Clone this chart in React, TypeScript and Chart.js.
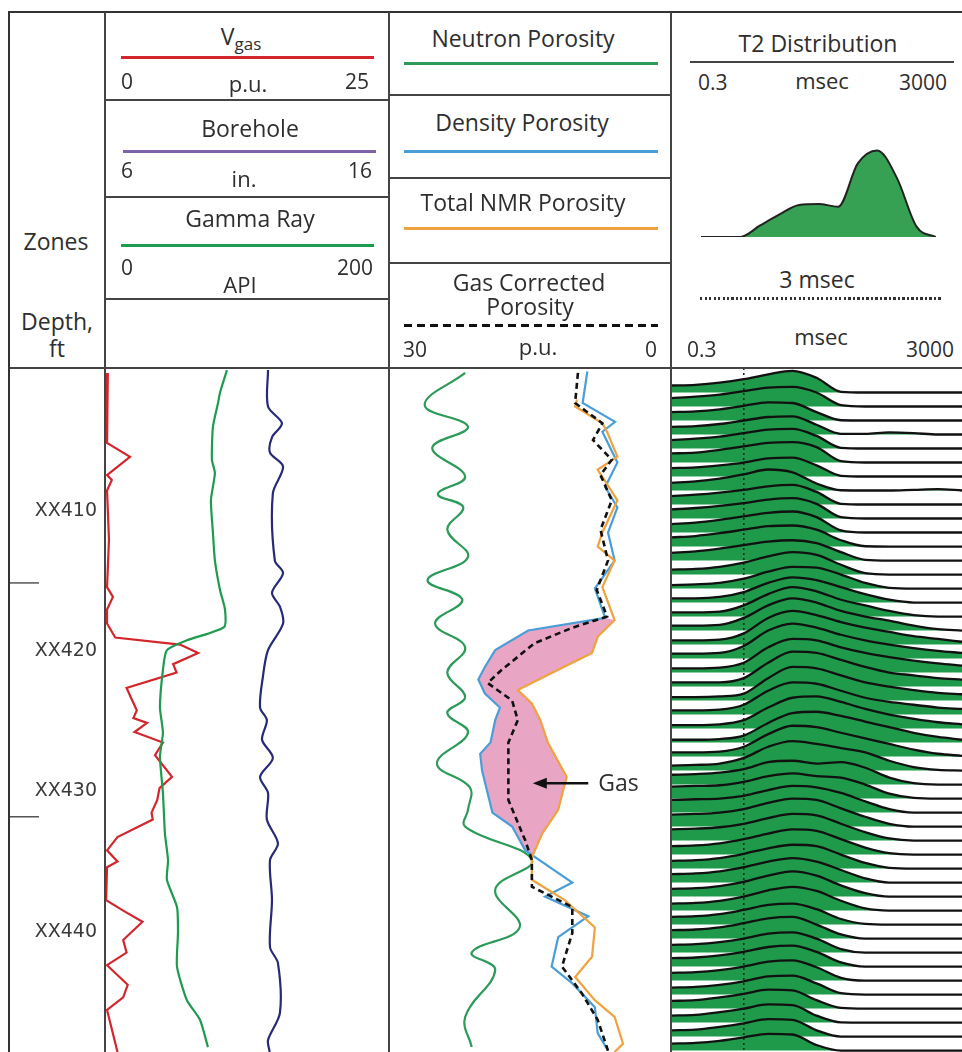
import { useEffect, useRef } from "react";
import { Chart, registerables } from "chart.js";

Chart.register(...registerables);

// ---------------- depth axis ----------------
const DEPTH_TOP = 399.75;
const DEPTH_BOTTOM = 448.6;
const DEPTH_TICKS = [410, 420, 430, 440];
const DEPTH_PREFIX = "XX";
const ZONE_BOUNDARIES = [415.1, 431.8];

// ---------------- track 1 : [depth ft, value] ----------------
const VGAS_RANGE = [0, 25];
const BOREHOLE_RANGE = [6, 16];
const GR_RANGE = [0, 200];

const VGAS: [number, number][] = [
  [400.1, 0.25], [405.1, 0.18], [406.1, 2.2], [407.4, 0.18], [407.75, 0.6], [408.5, 0.18],
  [412.0, 0.35], [415.4, 0.18], [416.1, 0.7], [417.0, 0.18], [418.0, 0.18], [419.0, 0.9],
  [419.5, 6.6], [420.1, 8.2], [420.9, 6.0], [421.5, 6.3], [422.6, 1.9], [423.5, 2.4],
  [424.2, 2.8], [424.75, 2.5], [425.1, 3.7], [425.75, 2.6], [426.5, 5.1], [427.4, 4.4],
  [428.95, 5.9], [429.75, 4.8], [430.6, 4.6], [431.5, 4.1], [432.0, 4.2], [433.25, 1.1],
  [434.2, 0.18], [435.0, 1.1], [435.4, 0.18], [437.75, 0.1], [438.5, 1.6], [439.3, 3.3],
  [440.6, 1.6], [441.5, 1.9], [442.4, 0.18], [443.8, 2.0], [444.7, 1.6], [445.6, 0.18],
  [448.6, 1.1],
];

const GAMMA_RAY: [number, number][] = [
  [399.9, 85.9], [401.5, 81], [402.25, 79.6], [403.95, 76], [406.3, 75.3], [407.25, 77.4],
  [409.2, 74.6], [411.5, 76], [413.5, 77.4], [415.6, 81], [417.0, 84.5], [418.25, 83.8],
  [419.2, 57.7], [419.9, 43.6], [421.3, 40.8], [424.0, 38.7], [425.8, 40.8], [427.5, 38.7],
  [430.1, 40.8], [433.0, 42.2], [434.9, 44.4], [436.3, 43.6], [438.25, 50.7], [440.1, 51.4],
  [442.5, 50.7], [444.9, 57.7], [446.3, 66.9], [448.25, 72.5],
];

const BOREHOLE: [number, number][] = [
  [399.9, 11.74], [402.5, 11.74], [403.7, 12.23], [404.7, 11.88], [405.8, 11.81], [406.8, 12.27],
  [408.7, 11.91], [413.5, 11.98], [414.4, 12.27], [415.8, 11.88], [416.8, 12.16], [418.0, 12.27],
  [419.9, 11.74], [421.8, 11.56], [424.0, 11.46], [424.9, 11.7], [426.3, 11.53], [427.6, 11.91],
  [428.95, 11.46], [430.1, 11.74], [432.0, 11.7], [433.7, 12.09], [434.9, 11.81], [437.75, 11.88],
  [441.1, 11.81], [442.25, 12.09], [445.8, 12.16], [447.75, 11.74], [448.6, 11.8],
];

// ---------------- track 2 : [depth ft, porosity p.u.] ----------------
const POROSITY_RANGE = [0, 30];

const NEUTRON: [number, number][] = [
  [400.1, 21.9], [402.4, 26.2], [403.95, 21.6], [405.45, 25.4], [407.5, 21.9], [408.75, 24.8],
  [409.7, 22.1], [411.3, 23.8], [413.25, 21.6], [414.9, 25.9], [416.3, 22.2], [418.0, 25.1],
  [419.7, 21.9], [421.5, 23.8], [423.25, 21.9], [424.4, 23.8], [425.8, 21.6], [428.0, 24.9],
  [429.7, 21.4], [431.3, 21.6], [432.5, 21.9], [434.9, 14.8], [437.0, 18.7], [439.7, 16.1],
  [441.5, 21.2], [442.75, 18.7], [446.1, 21.9], [448.25, 21.2],
];

const DENSITY: [number, number][] = [
  [400.0, 8.9], [402.25, 9.4], [403.6, 5.95], [404.3, 7.3], [406.5, 5.7], [408.25, 7.0],
  [409.7, 5.7], [411.5, 6.7], [413.5, 6.0], [415.5, 8.1], [417.6, 7.0], [418.5, 15.2],
  [419.9, 18.7], [421.1, 19.8], [422.0, 20.5], [423.0, 19.8], [424.0, 18.2], [424.9, 18.7],
  [426.5, 19.2], [427.3, 20.3], [428.5, 20.1], [431.5, 19.0], [432.5, 16.9], [434.2, 15.5],
  [436.5, 10.5], [437.5, 13.4], [438.9, 8.8], [440.4, 12.0], [442.5, 12.7], [443.7, 10.5],
  [445.4, 8.1], [447.25, 7.8], [448.5, 6.7],
];

const NMR: [number, number][] = [
  [402.0, 10.0], [402.5, 10.2], [403.7, 7.3], [404.3, 6.8], [406.1, 5.7], [407.0, 7.8],
  [409.2, 5.7], [411.5, 7.3], [412.5, 7.8], [413.5, 6.0], [415.4, 7.3], [417.75, 6.0],
  [418.95, 7.8], [420.1, 8.4], [421.3, 12.0], [422.75, 16.3], [423.7, 14.8], [424.9, 13.9],
  [426.5, 13.1], [428.95, 11.1], [431.3, 12.0], [433.0, 13.7], [434.7, 14.8], [436.3, 14.8],
  [437.75, 11.3], [439.7, 8.1], [441.8, 8.4], [443.25, 10.2], [444.9, 8.1], [446.1, 6.0],
  [448.0, 5.1], [448.6, 6.0],
];

const GAS_CORRECTED: [number, number][] = [
  [400.1, 9.9], [402.25, 10.2], [403.7, 7.3], [404.9, 8.3], [406.3, 6.3], [407.4, 7.5],
  [409.2, 6.3], [411.3, 7.5], [413.5, 6.7], [415.6, 7.9], [417.5, 6.8], [418.3, 10.5],
  [419.4, 14.5], [421.3, 18.0], [422.25, 19.5], [423.5, 16.9], [424.9, 16.3], [426.5, 17.3],
  [430.6, 17.3], [433.5, 15.5], [434.9, 14.8], [436.8, 14.8], [438.25, 10.5], [440.1, 10.5],
  [442.5, 11.6], [444.4, 9.5], [446.3, 7.8], [448.5, 6.7],
];

const GAS_ZONE = [417.5, 435.0];
const GAS_LABEL = { text: "Gas", depth: 429.4, head: 14.7, tail: 8.8 };

// ---------------- track 3 : T2 distributions ----------------
const T2_RANGE = [0.3, 3000];
const T2_CUTOFF = 3;
const T2_BINS = [0.3, 0.65, 1.4, 3, 6.5, 14, 30, 65, 140, 300, 650, 1400, 3000];
const T2_BASELINES = [
  401.5, 402.5, 403.5, 404.5, 405.5, 406.5, 407.5, 408.5, 409.5, 410.5, 411.5, 412.5,
  413.5, 414.5, 415.5, 416.5, 417.5, 418.5, 419.5, 420.5, 421.5, 422.5, 423.5, 424.5,
  425.5, 426.5, 427.5, 428.5, 429.5, 430.5, 431.5, 432.5, 433.5, 434.5, 435.5, 436.5,
  437.5, 438.5, 439.5, 440.5, 441.5, 442.5, 443.5, 444.5, 445.5, 446.5, 447.5, 448.5,
];
const T2_AMPLITUDES = [
  [0.5, 0.55, 0.7, 0.95, 1.3, 1.55, 1.05, 0.05, 0, 0, 0, 0, 0],
  [0.6, 0.7, 0.85, 1.1, 1.35, 1.4, 1.0, 0.1, 0, 0, 0, 0, 0],
  [0.6, 0.65, 0.8, 1.05, 1.3, 1.25, 0.6, 0.02, 0, 0, 0, 0, 0],
  [0.55, 0.6, 0.75, 1.0, 1.25, 1.3, 0.7, 0.05, 0.05, 0.15, 0.1, 0, 0],
  [0.6, 0.7, 0.85, 1.1, 1.35, 1.4, 0.9, 0.05, 0, 0, 0, 0, 0],
  [0.65, 0.7, 0.9, 1.15, 1.4, 1.45, 1.1, 0.1, 0, 0, 0, 0, 0],
  [0.6, 0.65, 0.8, 1.0, 1.3, 1.35, 0.8, 0.05, 0, 0, 0, 0, 0],
  [0.55, 0.65, 0.85, 1.15, 1.5, 1.3, 0.5, 0.02, 0, 0, 0.05, 0.1, 0],
  [0.6, 0.7, 0.85, 1.05, 1.3, 1.4, 0.9, 0.05, 0, 0, 0, 0, 0],
  [0.65, 0.75, 0.9, 1.1, 1.35, 1.45, 1.05, 0.1, 0, 0, 0, 0, 0],
  [0.6, 0.7, 0.9, 1.15, 1.4, 1.5, 1.1, 0.15, 0, 0, 0, 0, 0],
  [0.65, 0.75, 0.95, 1.2, 1.45, 1.5, 1.2, 0.45, 0.02, 0, 0, 0, 0],
  [0.55, 0.65, 0.85, 1.1, 1.35, 1.45, 1.25, 0.6, 0.05, 0, 0, 0, 0],
  [0.35, 0.4, 0.55, 0.85, 1.3, 1.6, 1.4, 0.7, 0.1, 0, 0, 0, 0],
  [0.25, 0.3, 0.4, 0.7, 1.2, 1.55, 1.5, 1.0, 0.4, 0.05, 0, 0, 0],
  [0.3, 0.3, 0.4, 0.75, 1.4, 1.8, 1.6, 1.1, 0.6, 0.2, 0, 0, 0],
  [0.3, 0.3, 0.35, 0.8, 1.6, 2.1, 1.8, 1.2, 0.8, 0.4, 0.1, 0, 0],
  [0.35, 0.35, 0.4, 0.9, 1.8, 2.3, 2.0, 1.4, 1.0, 0.7, 0.35, 0.1, 0],
  [0.3, 0.3, 0.35, 0.8, 1.9, 2.4, 2.1, 1.6, 1.2, 0.9, 0.6, 0.4, 0.2],
  [0.35, 0.35, 0.4, 0.9, 2.0, 2.5, 2.2, 1.7, 1.3, 1.0, 0.75, 0.55, 0.4],
  [0.3, 0.3, 0.35, 0.7, 1.8, 2.4, 2.3, 1.8, 1.4, 1.1, 0.85, 0.65, 0.5],
  [0.3, 0.3, 0.3, 0.6, 1.7, 2.5, 2.4, 1.9, 1.4, 1.0, 0.8, 0.6, 0.5],
  [0.25, 0.25, 0.3, 0.5, 1.6, 2.4, 2.3, 1.8, 1.3, 1.0, 0.75, 0.55, 0.45],
  [0.3, 0.3, 0.35, 0.7, 1.7, 2.3, 2.2, 1.7, 1.2, 0.9, 0.7, 0.5, 0.4],
  [0.25, 0.25, 0.3, 0.6, 1.5, 2.2, 2.3, 1.9, 1.4, 1.0, 0.7, 0.45, 0.3],
  [0.2, 0.2, 0.25, 0.5, 1.4, 2.1, 2.2, 1.9, 1.5, 1.1, 0.7, 0.4, 0.2],
  [0.3, 0.3, 0.35, 0.7, 1.6, 2.2, 2.1, 1.7, 1.3, 0.9, 0.5, 0.2, 0.05],
  [0.35, 0.4, 0.5, 0.9, 1.7, 2.1, 1.9, 1.6, 1.3, 0.7, 0.25, 0.05, 0],
  [0.7, 0.75, 0.85, 1.1, 1.6, 1.7, 1.5, 1.6, 1.2, 0.5, 0.1, 0, 0],
  [0.85, 0.9, 0.95, 1.2, 1.6, 1.8, 1.6, 1.5, 1.0, 0.35, 0.05, 0, 0],
  [0.9, 0.95, 1.0, 1.2, 1.6, 1.9, 1.8, 1.4, 0.8, 0.25, 0, 0, 0],
  [0.85, 0.9, 1.0, 1.25, 1.7, 2.0, 1.9, 1.3, 0.7, 0.2, 0, 0, 0],
  [0.8, 0.85, 0.95, 1.2, 1.6, 1.9, 1.8, 1.2, 0.6, 0.15, 0, 0, 0],
  [0.6, 0.65, 0.8, 1.1, 1.5, 1.8, 1.7, 1.1, 0.5, 0.1, 0, 0, 0],
  [0.55, 0.6, 0.75, 1.05, 1.45, 1.7, 1.6, 1.0, 0.4, 0.05, 0, 0, 0],
  [0.6, 0.65, 0.8, 1.1, 1.5, 1.75, 1.5, 0.9, 0.3, 0, 0, 0, 0],
  [0.55, 0.6, 0.75, 1.05, 1.5, 1.8, 1.5, 0.8, 0.25, 0, 0, 0, 0],
  [0.5, 0.55, 0.7, 1.0, 1.45, 1.7, 1.4, 0.7, 0.15, 0, 0, 0, 0],
  [0.55, 0.6, 0.75, 1.05, 1.4, 1.5, 1.1, 0.4, 0.05, 0, 0, 0, 0],
  [0.6, 0.65, 0.8, 1.1, 1.45, 1.55, 1.0, 0.3, 0, 0, 0, 0, 0],
  [0.55, 0.6, 0.75, 1.0, 1.35, 1.45, 1.0, 0.25, 0, 0, 0, 0, 0],
  [0.6, 0.65, 0.8, 1.05, 1.4, 1.5, 1.05, 0.3, 0, 0, 0, 0, 0],
  [0.55, 0.6, 0.75, 1.0, 1.35, 1.45, 0.95, 0.2, 0, 0, 0, 0, 0],
  [0.5, 0.55, 0.7, 0.95, 1.3, 1.35, 0.8, 0.1, 0, 0, 0, 0, 0],
  [0.55, 0.6, 0.8, 1.05, 1.35, 1.3, 0.6, 0.05, 0, 0, 0, 0, 0],
  [0.5, 0.55, 0.75, 1.0, 1.3, 1.25, 0.5, 0.02, 0, 0, 0, 0, 0],
  [0.45, 0.5, 0.7, 0.95, 1.25, 1.2, 0.45, 0, 0, 0, 0, 0, 0],
  [0.5, 0.55, 0.7, 0.95, 1.2, 1.15, 0.4, 0, 0, 0, 0, 0, 0],
];
const T2_GAIN = 1; // ft of depth per amplitude unit
const HEADER_T2_AMP = [0, 0, 0, 0.13, 0.26, 0.37, 0.38, 0.35, 0.85, 1.0, 0.68, 0.12, 0];

// ---------------- styles ----------------
const C = {
  text: "#2e2e2e",
  frame: "#444",
  vgas: "#d3262c",
  borehole: "#262a78",
  boreholeKey: "#7d62a8",
  gr: "#1f9b50",
  neutron: "#2c9a58",
  density: "#4a9ed8",
  nmr: "#efa23e",
  gcp: "#111",
  gas: "rgb(233,166,196)",
  t2: "#1f9a4b",
  t2Header: "#36a152",
};
const SANS = "'Open Sans', 'Noto Sans', sans-serif";

const depthScale = (extra: any = {}) => ({
  type: "linear",
  reverse: true,
  min: DEPTH_TOP,
  max: DEPTH_BOTTOM,
  display: false,
  ...extra,
});

const baseOptions = (extra: any = {}) => ({
  responsive: false,
  maintainAspectRatio: false,
  animation: false,
  events: [],
  layout: { padding: 0 },
  ...extra,
});

const curve = (pts: [number, number][], color: string, xAxisID: string, extra: any = {}) => ({
  data: pts.map(([d, v]) => ({ x: v, y: d })),
  borderColor: color,
  borderWidth: 2.2,
  pointRadius: 0,
  fill: false,
  tension: 0,
  xAxisID,
  yAxisID: "y",
  ...extra,
});

const zoneMarks = {
  id: "zoneMarks",
  afterDraw(chart: any) {
    const y = chart.scales.y;
    const ctx = chart.ctx;
    ctx.save();
    ctx.strokeStyle = "#555";
    ctx.lineWidth = 1.5;
    ZONE_BOUNDARIES.forEach((d) => {
      const py = y.getPixelForValue(d);
      ctx.beginPath();
      ctx.moveTo(0, py);
      ctx.lineTo(30, py);
      ctx.stroke();
    });
    ctx.restore();
  },
};

const gasLabel = {
  id: "gasLabel",
  afterDatasetsDraw(chart: any) {
    const { x, y } = chart.scales;
    const ctx = chart.ctx;
    const py = y.getPixelForValue(GAS_LABEL.depth);
    const hx = x.getPixelForValue(GAS_LABEL.head);
    const tx = x.getPixelForValue(GAS_LABEL.tail);
    ctx.save();
    ctx.strokeStyle = "#111";
    ctx.fillStyle = "#111";
    ctx.lineWidth = 2.5;
    ctx.beginPath();
    ctx.moveTo(tx, py);
    ctx.lineTo(hx + 10, py);
    ctx.stroke();
    ctx.beginPath();
    ctx.moveTo(hx, py);
    ctx.lineTo(hx + 14, py - 5.5);
    ctx.lineTo(hx + 14, py + 5.5);
    ctx.closePath();
    ctx.fill();
    ctx.fillStyle = C.text;
    ctx.font = "23px 'Open Sans'";
    ctx.textBaseline = "middle";
    ctx.textAlign = "left";
    ctx.fillText(GAS_LABEL.text, tx + 10, py + 1);
    ctx.restore();
  },
};

function useChart(make: () => any) {
  const ref = useRef<HTMLCanvasElement | null>(null);
  useEffect(() => {
    if (!ref.current) return;
    const chart = new Chart(ref.current, make());
    return () => chart.destroy();
  }, []);
  return ref;
}

function Track1() {
  const ref = useChart(() => ({
    type: "line",
    data: {
      datasets: [
        curve(BOREHOLE, C.borehole, "xBH", { tension: 0.3 }),
        curve(GAMMA_RAY, C.gr, "xGR", { tension: 0.2 }),
        curve(VGAS, C.vgas, "xV"),
      ],
    },
    options: baseOptions({
      indexAxis: "y",
      plugins: { legend: { display: false }, tooltip: { enabled: false } },
      scales: {
        y: depthScale({
          display: true,
          position: "left",
          grid: { display: false, drawTicks: false },
          border: { display: false },
          ticks: {
            padding: 8,
            color: "#3a3a3a",
            autoSkip: false,
            maxRotation: 0,
            font: { family: "'DejaVu Sans', sans-serif", size: 19 },
            callback: (v: number) => DEPTH_PREFIX + v,
          },
          afterBuildTicks: (s: any) => {
            s.ticks = DEPTH_TICKS.map((value) => ({ value }));
          },
          afterFit: (s: any) => {
            s.width = 96;
            s.paddingTop = 0;
            s.paddingBottom = 0;
          },
        }),
        xV: { type: "linear", min: VGAS_RANGE[0], max: VGAS_RANGE[1], display: false },
        xGR: { type: "linear", min: GR_RANGE[0], max: GR_RANGE[1], display: false },
        xBH: { type: "linear", min: BOREHOLE_RANGE[0], max: BOREHOLE_RANGE[1], display: false },
      },
    }),
    plugins: [zoneMarks],
  }));
  return <canvas ref={ref} width={380} height={684} style={{ position: "absolute", left: 9, top: 368 }} />;
}

function Track2() {
  const ref = useChart(() => {
    const inZone = (p: [number, number]) => p[0] >= GAS_ZONE[0] && p[0] <= GAS_ZONE[1];
    const shape = [...DENSITY.filter(inZone), ...NMR.filter(inZone).reverse()];
    return {
      type: "line",
      data: {
        datasets: [
          curve(shape, "rgba(0,0,0,0)", "x", { fill: "shape", backgroundColor: C.gas, borderWidth: 0, order: 10 }),
          curve(NEUTRON, C.neutron, "x", { order: 4, tension: 0.4 }),
          curve(DENSITY, C.density, "x", { order: 3 }),
          curve(NMR, C.nmr, "x", { order: 2 }),
          curve(GAS_CORRECTED, C.gcp, "x", { order: 1, borderDash: [6, 4], borderWidth: 2.6 }),
        ],
      },
      options: baseOptions({
        indexAxis: "y",
        plugins: { legend: { display: false }, tooltip: { enabled: false } },
        scales: {
          y: depthScale(),
          x: { type: "linear", min: POROSITY_RANGE[0], max: POROSITY_RANGE[1], reverse: true, display: false },
        },
      }),
      plugins: [gasLabel],
    };
  });
  return <canvas ref={ref} width={282} height={684} style={{ position: "absolute", left: 389, top: 368 }} />;
}

function Track3() {
  const ref = useChart(() => {
    const traces = T2_BASELINES.map((base, k) => ({
      data: T2_BINS.map((t, i) => ({ x: t, y: base - T2_AMPLITUDES[k][i] * T2_GAIN })),
      borderColor: "#111",
      borderWidth: 2.3,
      backgroundColor: C.t2,
      fill: { value: base },
      pointRadius: 0,
      cubicInterpolationMode: "monotone",
    }));
    const cutoff = {
      data: [
        { x: T2_CUTOFF, y: DEPTH_TOP },
        { x: T2_CUTOFF, y: DEPTH_BOTTOM },
      ],
      borderColor: "#222",
      borderWidth: 1.6,
      borderDash: [2, 3],
      pointRadius: 0,
      fill: false,
    };
    return {
      type: "line",
      data: { datasets: [...traces, cutoff] },
      options: baseOptions({
        plugins: {
          legend: { display: false },
          tooltip: { enabled: false },
          filler: { drawTime: "beforeDatasetsDraw" },
        },
        scales: {
          x: { type: "logarithmic", min: T2_RANGE[0], max: T2_RANGE[1], display: false },
          y: depthScale(),
        },
      }),
    };
  });
  return <canvas ref={ref} width={291} height={684} style={{ position: "absolute", left: 671, top: 368 }} />;
}

function HeaderT2() {
  const ref = useChart(() => ({
    type: "line",
    data: {
      datasets: [
        {
          data: T2_BINS.map((t, i) => ({ x: t, y: HEADER_T2_AMP[i] })),
          borderColor: "#222",
          borderWidth: 2,
          backgroundColor: C.t2Header,
          fill: "origin",
          pointRadius: 0,
          cubicInterpolationMode: "monotone",
        },
      ],
    },
    options: baseOptions({
      layout: { padding: { bottom: 3 } },
      plugins: { legend: { display: false }, tooltip: { enabled: false } },
      scales: {
        x: { type: "logarithmic", min: T2_RANGE[0], max: T2_RANGE[1], display: false },
        y: { type: "linear", min: 0, max: 1.12, display: false },
      },
    }),
  }));
  return <canvas ref={ref} width={235} height={100} style={{ position: "absolute", left: 701, top: 140 }} />;
}

// ---------------- layout helpers ----------------
function T({ x, y, a = "c", s = 23, children }: any) {
  const tx = a === "c" ? "-50%" : a === "l" ? "0" : "-100%";
  return (
    <div
      style={{
        position: "absolute",
        left: x,
        top: y,
        transform: `translate(${tx},-50%)`,
        fontSize: s,
        lineHeight: 1,
        whiteSpace: "nowrap",
        color: C.text,
      }}
    >
      {children}
    </div>
  );
}

function HL({ x1, x2, y, w = 2, c = C.frame, bg }: any) {
  return (
    <div
      style={{
        position: "absolute",
        left: x1,
        top: y - w / 2,
        width: x2 - x1,
        height: w,
        background: bg || c,
      }}
    />
  );
}

function VL({ x, y1, y2, w = 2, c = C.frame }: any) {
  return <div style={{ position: "absolute", left: x - w / 2, top: y1, width: w, height: y2 - y1, background: c }} />;
}

export default function App() {
  return (
    <div
      style={{
        position: "absolute",
        left: 0,
        top: 0,
        width: 962,
        height: 1052,
        background: "#fff",
        overflow: "hidden",
        fontFamily: SANS,
      }}
    >
      <Track1 />
      <Track2 />
      <Track3 />
      <HeaderT2 />

      {/* frame */}
      <HL x1={8} x2={962} y={12} w={2.5} c="#333" />
      <HL x1={8} x2={962} y={368} />
      <VL x={9} y1={11} y2={1052} w={2.5} c="#333" />
      <VL x={105} y1={12} y2={1052} />
      <VL x={389} y1={12} y2={1052} />
      <VL x={671} y1={12} y2={1052} />
      <HL x1={105} x2={389} y={100} />
      <HL x1={105} x2={389} y={197} />
      <HL x1={105} x2={389} y={299} />
      <HL x1={389} x2={671} y={95} />
      <HL x1={389} x2={671} y={178} />
      <HL x1={389} x2={671} y={263} />

      {/* left column */}
      <T x={56} y={241}>Zones</T>
      <T x={57} y={321}>Depth,</T>
      <T x={57} y={348}>ft</T>

      {/* track 1 header */}
      <div
        style={{
          position: "absolute",
          left: 241,
          top: 36,
          transform: "translate(-50%,-50%)",
          fontSize: 23,
          lineHeight: 1,
          whiteSpace: "nowrap",
          color: C.text,
        }}
      >
        V<span style={{ fontSize: 17, position: "relative", top: 5 }}>gas</span>
      </div>
      <HL x1={121} x2={374} y={57} w={3} c={C.vgas} />
      <T x={121} y={81} a="l" s={21}>0</T>
      <T x={248} y={83} s={22}>p.u.</T>
      <T x={369} y={81} a="r" s={21}>25</T>

      <T x={250} y={128}>Borehole</T>
      <HL x1={123} x2={376} y={151} w={3} c={C.boreholeKey} />
      <T x={121} y={170} a="l" s={21}>6</T>
      <T x={244} y={178} s={22}>in.</T>
      <T x={372} y={170} a="r" s={21}>16</T>

      <T x={250} y={218}>Gamma Ray</T>
      <HL x1={121} x2={374} y={245} w={3} c={C.gr} />
      <T x={121} y={267} a="l" s={21}>0</T>
      <T x={240} y={284} s={22}>API</T>
      <T x={373} y={267} a="r" s={21}>200</T>

      {/* track 2 header */}
      <T x={523} y={38}>Neutron Porosity</T>
      <HL x1={404} x2={658} y={63} w={3} c={C.neutron} />
      <T x={522} y={122}>Density Porosity</T>
      <HL x1={404} x2={658} y={151} w={3} c={C.density} />
      <T x={523} y={202}>Total NMR Porosity</T>
      <HL x1={404} x2={658} y={228} w={3} c={C.nmr} />
      <T x={529} y={282}>Gas Corrected</T>
      <T x={530} y={306}>Porosity</T>
      <HL
        x1={404}
        x2={658}
        y={325}
        w={3}
        bg="repeating-linear-gradient(to right, #111 0 8px, transparent 8px 13px)"
      />
      <T x={403} y={349} a="l" s={21}>30</T>
      <T x={538} y={346} s={22}>p.u.</T>
      <T x={657} y={349} a="r" s={21}>0</T>

      {/* track 3 header */}
      <T x={818} y={43}>T2 Distribution</T>
      <HL x1={690} x2={954} y={62} c="#444" />
      <T x={698} y={82} a="l" s={21}>0.3</T>
      <T x={822} y={80} s={22}>msec</T>
      <T x={947} y={82} a="r" s={21}>3000</T>
      <T x={817} y={279}>3 msec</T>
      <HL
        x1={700}
        x2={943}
        y={298}
        w={3}
        bg="repeating-linear-gradient(to right, #333 0 2px, transparent 2px 4.5px)"
      />
      <T x={821} y={336} s={22}>msec</T>
      <T x={687} y={349} a="l" s={21}>0.3</T>
      <T x={954} y={349} a="r" s={21}>3000</T>
    </div>
  );
}
